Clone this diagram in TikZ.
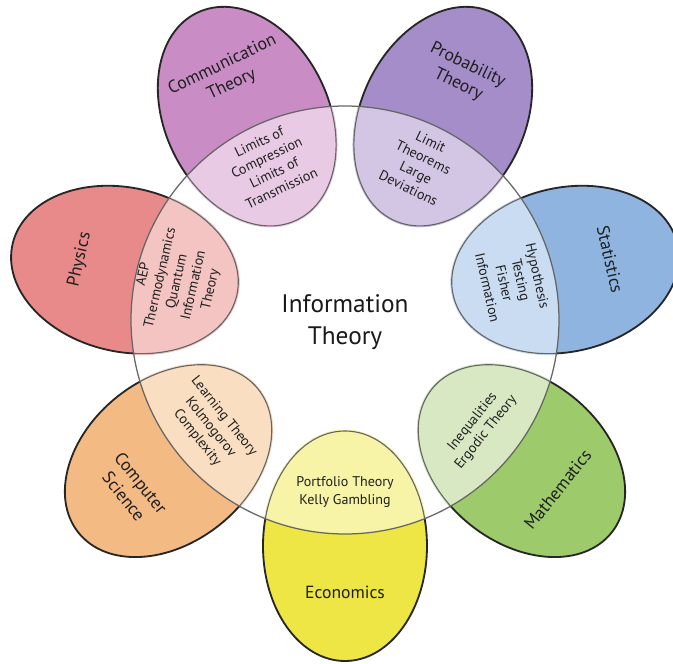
\documentclass[tikz,border=0pt]{standalone}
\usepackage{fontspec}
\setmainfont{PT Sans}
\definecolor{commdark}{HTML}{C98CC5}
\definecolor{commlight}{HTML}{E9CAE5}
\definecolor{probdark}{HTML}{A48DC8}
\definecolor{problight}{HTML}{D2C6E4}
\definecolor{statdark}{HTML}{8FB4DF}
\definecolor{statlight}{HTML}{CADCF1}
\definecolor{mathdark}{HTML}{9DCA6B}
\definecolor{mathlight}{HTML}{D8E8C3}
\definecolor{econdark}{HTML}{EEE644}
\definecolor{econlight}{HTML}{F7F4A8}
\definecolor{csdark}{HTML}{F3BA84}
\definecolor{cslight}{HTML}{F9DEC2}
\definecolor{physdark}{HTML}{E8898A}
\definecolor{physlight}{HTML}{F3C4C2}
\begin{document}
\begin{tikzpicture}[line join=bevel]
  \tikzstyle{outline}=[draw=black!85,line width=1.3pt]
  \tikzstyle{inline}=[draw=black!60,line width=0.8pt]
  \tikzstyle{field}=[text=black!88,align=center,font=\fontsize{12.5}{15.5}\selectfont]
  \tikzstyle{topic}=[text=black!88,align=center,font=\fontsize{10}{12.2}\selectfont]
  \useasboundingbox (-8.625,-8.6) rectangle (8.2,8.0);
  % petals
  \foreach \ang/\rot/\dk/\lt/\outer/\inner [count=\i] in {
      270/0/econdark/econlight/{Economics}/{Portfolio Theory\\Kelly Gambling},
      321.43/51.43/mathdark/mathlight/{Mathematics}/{Inequalities\\Ergodic Theory},
      12.86/-77.14/statdark/statlight/{Statistics}/{Hypothesis\\Testing\\Fisher\\Information},
      64.29/-25.71/probdark/problight/{Probability\\Theory}/{Limit\\Theorems\\Large\\Deviations},
      115.71/25.71/commdark/commlight/{Communication\\Theory}/{Limits of\\Compression\\Limits of\\Transmission},
      167.14/77.14/physdark/physlight/{Physics}/{AEP\\Thermodynamics\\Quantum\\Information\\Theory},
      218.57/-51.43/csdark/cslight/{Computer\\Science}/{Learning Theory\\Kolmogorov\\Complexity}} {
    \begin{scope}[rotate=\ang]
      \fill[\dk] (5.65,0) ellipse (2.875 and 2.05);
      \draw[outline] (5.65,0) ellipse (2.875 and 2.05);
      \begin{scope}
        \clip (0,0) circle (5.35);
        \fill[\lt] (5.65,0) ellipse (2.875 and 2.05);
        \draw[\lt,line width=2pt] (5.65,0) ellipse (2.875 and 2.05);
        \draw[inline] (5.65,0) ellipse (2.875 and 2.05);
      \end{scope}
    \end{scope}
    \node[field,rotate=\rot] (F_\i) at (\ang:6.8) {\outer};
    \node[topic,rotate=\rot] (T_\i) at (\ang:4.3) {\inner};
  }
  \draw[inline,line width=0.9pt] (0,0) circle (5.35);
  \node[align=center,text=black!90,font=\fontsize{18}{23}\selectfont] (IT) at (0,-0.05) {Information\\Theory};
\end{tikzpicture}
\end{document}
